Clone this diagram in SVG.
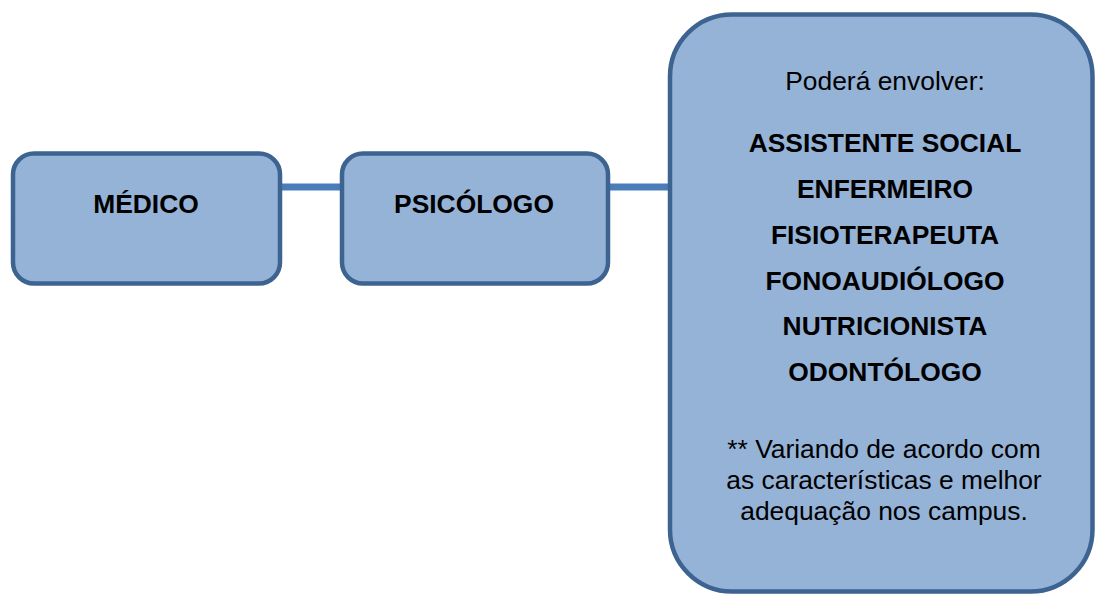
<svg xmlns="http://www.w3.org/2000/svg" width="1095" height="595" viewBox="0 0 1095 595">
<style>
.box{fill:#95b3d7;stroke:#3d6390;stroke-width:4.5}
.conn{stroke:#4a7ebb;stroke-width:7;fill:none}
.b{font-family:"Liberation Sans",Arial,sans-serif;font-weight:bold;font-size:26.4px;fill:#000;text-anchor:middle}
.r{font-family:"Liberation Sans",Arial,sans-serif;font-size:26.4px;fill:#000;text-anchor:middle}
</style>
<rect width="1095" height="595" fill="#ffffff"/>
<g id="connectors">
<line class="conn" x1="282" y1="187" x2="341" y2="187"/>
<line class="conn" x1="610" y1="187" x2="668" y2="187"/>
</g>
<g id="medico">
<rect class="box" x="13" y="153.5" width="267" height="130" rx="21"/>
<text class="b" x="146" y="213">MÉDICO</text>
</g>
<g id="psicologo">
<rect class="box" x="342" y="153.5" width="266" height="130" rx="21"/>
<text class="b" x="474" y="213">PSICÓLOGO</text>
</g>
<g id="envolver">
<rect class="box" x="670" y="14.5" width="422.5" height="577" rx="62"/>
<text class="r" x="885" y="90">Poderá envolver:</text>
<text class="b" x="885" y="152">ASSISTENTE SOCIAL</text>
<text class="b" x="885" y="197.5">ENFERMEIRO</text>
<text class="b" x="885" y="243.5">FISIOTERAPEUTA</text>
<text class="b" x="885" y="289.5">FONOAUDIÓLOGO</text>
<text class="b" x="885" y="335">NUTRICIONISTA</text>
<text class="b" x="885" y="381">ODONTÓLOGO</text>
<text class="r" x="884" y="457.5">** Variando de acordo com</text>
<text class="r" x="884" y="488.5">as características e melhor</text>
<text class="r" x="884" y="519.5">adequação nos campus.</text>
</g>
</svg>
